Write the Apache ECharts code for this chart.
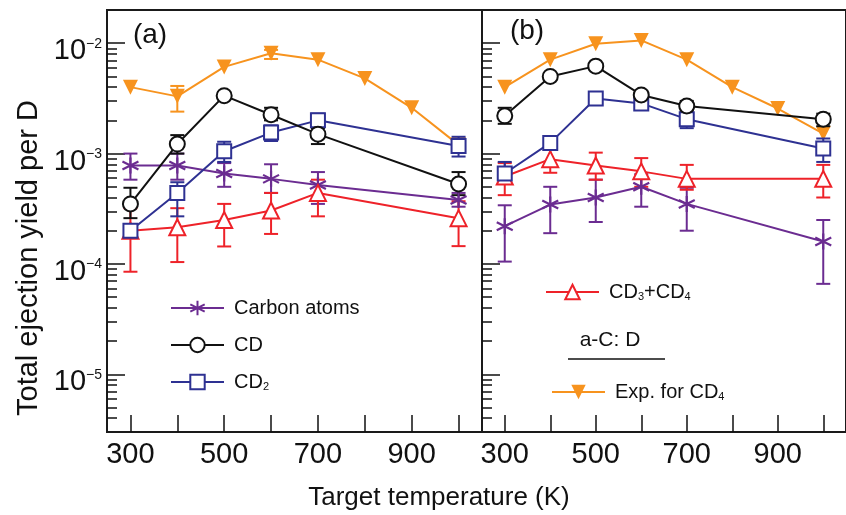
<!DOCTYPE html>
<html>
<head>
<meta charset="utf-8">
<script src="https://cdn.jsdelivr.net/npm/echarts@6/dist/echarts.min.js"></script>
<style>
  html, body { margin: 0; padding: 0; background: #fff; }
  #chart { width: 846px; height: 515px; }
</style>
</head>
<body>
<div id="chart"></div>
<script>
const FONT = '"Liberation Sans", Arial, sans-serif';

// ---- temperatures (K) ----
const simTemps = [300, 400, 500, 600, 700, 1000];
const expTemps = [300, 400, 500, 600, 700, 800, 900, 1000];

// ---- axis ticks ----
const xTickValues = [300, 400, 500, 600, 700, 800, 900, 1000];
const xLabelValues = [300, 500, 700, 900];
const yMajorTicks = [1e-5, 1e-4, 1e-3, 1e-2];
const yMinorFactors = [2, 3, 4, 5, 6, 7, 8, 9];
const yMinorDecades = [1e-6, 1e-5, 1e-4, 1e-3];

// ---- panel (a) ----
const carbonA    = [7.8e-4, 7.8e-4, 6.6e-4, 5.9e-4, 5.2e-4, 3.8e-4];
const carbonA_lo = [5.8e-4, 5.8e-4, 5.0e-4, 4.4e-4, 3.5e-4, 3.3e-4];
const carbonA_hi = [1.0e-3, 1.0e-3, 8.2e-4, 8.0e-4, 6.8e-4, 4.4e-4];

const cdA    = [3.5e-4, 1.22e-3, 3.35e-3, 2.25e-3, 1.5e-3, 5.3e-4];
const cdA_lo = [2.6e-4, 1.0e-3, 3.1e-3, 2.0e-3, 1.22e-3, 4.2e-4];
const cdA_hi = [4.9e-4, 1.47e-3, 3.6e-3, 2.6e-3, 1.7e-3, 6.8e-4];

const cd2A    = [2.0e-4, 4.4e-4, 1.05e-3, 1.55e-3, 2.0e-3, 1.17e-3];
const cd2A_lo = [1.8e-4, 2.7e-4, 8.4e-4, 1.3e-3, 1.75e-3, 9.4e-4];
const cd2A_hi = [2.3e-4, 5.5e-4, 1.28e-3, 1.8e-3, 2.3e-3, 1.42e-3];

const cd34A    = [2.0e-4, 2.15e-4, 2.5e-4, 3.05e-4, 4.4e-4, 2.6e-4];
const cd34A_lo = [8.5e-5, 1.04e-4, 1.44e-4, 1.87e-4, 2.7e-4, 1.45e-4];
const cd34A_hi = [3.2e-4, 3.2e-4, 3.5e-4, 4.4e-4, 5.8e-4, 3.7e-4];

const expA    = [4.0e-3, 3.3e-3, 6.1e-3, 8.1e-3, 7.1e-3, 4.8e-3, 2.6e-3, 1.2e-3];
const expA_lo = [null, 2.4e-3, null, 7.2e-3, null, null, null, null];
const expA_hi = [null, 4.1e-3, null, 8.7e-3, null, null, null, null];

// ---- panel (b) ----
const carbonB    = [2.2e-4, 3.45e-4, 4.0e-4, 5.0e-4, 3.5e-4, 1.6e-4];
const carbonB_lo = [1.05e-4, 1.9e-4, 2.4e-4, 3.3e-4, 2.0e-4, 6.6e-5];
const carbonB_hi = [3.4e-4, 5.0e-4, 5.8e-4, 6.5e-4, 4.9e-4, 2.5e-4];

const cdB    = [2.2e-3, 5.0e-3, 6.2e-3, 3.4e-3, 2.7e-3, 2.05e-3];
const cdB_lo = [1.86e-3, null, null, 3.1e-3, 2.45e-3, 1.77e-3];
const cdB_hi = [2.6e-3, null, null, 3.7e-3, 3.0e-3, 2.3e-3];

const cd2B    = [6.6e-4, 1.25e-3, 3.15e-3, 2.85e-3, 2.05e-3, 1.11e-3];
const cd2B_lo = [5.4e-4, 1.1e-3, null, 2.6e-3, 1.7e-3, 8.4e-4];
const cd2B_hi = [8.4e-4, 1.4e-3, null, 3.2e-3, 2.3e-3, 1.37e-3];

const cd34B    = [6.2e-4, 8.9e-4, 7.8e-4, 6.9e-4, 5.9e-4, 5.9e-4];
const cd34B_lo = [4.2e-4, 6.7e-4, 5.8e-4, 5.0e-4, 4.7e-4, 4.0e-4];
const cd34B_hi = [8.2e-4, 1.16e-3, 1.02e-3, 9.1e-4, 7.9e-4, 7.9e-4];

const expB = [4.0e-3, 7.1e-3, 9.9e-3, 1.06e-2, 7.1e-3, 4.0e-3, 2.56e-3, 1.52e-3];

// ---- series names and colours ----
const NAME_C = 'Carbon atoms', NAME_CD = 'CD', NAME_CD2 = 'CD2', NAME_CD34 = 'CD3+CD4', NAME_EXP = 'Exp. for CD4';
const C_PURPLE = '#6B2C91', C_BLACK = '#111111', C_BLUE = '#2E3192', C_RED = '#EE2229', C_ORANGE = '#F7931E';

const yMinorTicks = [];
yMinorDecades.forEach(d => yMinorFactors.forEach(f => {
  const v = +(f * d).toPrecision(3);
  if (v > 3.05e-6 && v < 1.95e-2) yMinorTicks.push(v);
}));

// six-armed asterisk marker
const STAR = 'path://M0,-1L0,1M-0.866,-0.5L0.866,0.5M-0.866,0.5L0.866,-0.5';

const markers = {
  [NAME_C]:    { symbol: STAR, symbolSize: 16, itemStyle: { color: C_PURPLE, borderColor: C_PURPLE, borderWidth: 2.2 }, color: C_PURPLE },
  [NAME_CD]:   { symbol: 'circle', symbolSize: 15, itemStyle: { color: '#fff', borderColor: C_BLACK, borderWidth: 2 }, color: C_BLACK },
  [NAME_CD2]:  { symbol: 'rect', symbolSize: 14, itemStyle: { color: '#fff', borderColor: C_BLUE, borderWidth: 2 }, color: C_BLUE },
  [NAME_CD34]: { symbol: 'triangle', symbolSize: 16, itemStyle: { color: '#fff', borderColor: C_RED, borderWidth: 2 }, color: C_RED },
  [NAME_EXP]:  { symbol: 'triangle', symbolSize: 15, symbolRotate: 180, itemStyle: { color: C_ORANGE, borderColor: C_ORANGE, borderWidth: 0 }, color: C_ORANGE }
};

function lineSeries(name, panel, temps, vals, z) {
  const m = markers[name];
  return {
    type: 'line', name: name,
    xAxisIndex: panel, yAxisIndex: panel * 2,
    data: temps.map((t, i) => [t, vals[i]]),
    symbol: m.symbol, symbolSize: m.symbolSize, symbolRotate: m.symbolRotate || 0,
    showSymbol: true,
    itemStyle: m.itemStyle,
    lineStyle: { color: m.color, width: 2 },
    z: z
  };
}

function errorSeries(panel, temps, lo, hi, color, z) {
  const data = [];
  temps.forEach((t, i) => { if (lo[i] != null && hi[i] != null) data.push([t, lo[i], hi[i]]); });
  return {
    type: 'custom',
    xAxisIndex: panel, yAxisIndex: panel * 2,
    data: data,
    encode: { x: 0, y: [1, 2] },
    z: z,
    renderItem: function (params, api) {
      const x = api.value(0);
      const pLo = api.coord([x, api.value(1)]);
      const pHi = api.coord([x, api.value(2)]);
      const half = 7;
      const style = { stroke: color, lineWidth: 2, fill: null };
      return {
        type: 'group',
        children: [
          { type: 'line', shape: { x1: pLo[0], y1: pLo[1], x2: pHi[0], y2: pHi[1] }, style: style },
          { type: 'line', shape: { x1: pLo[0] - half, y1: pLo[1], x2: pLo[0] + half, y2: pLo[1] }, style: style },
          { type: 'line', shape: { x1: pHi[0] - half, y1: pHi[1], x2: pHi[0] + half, y2: pHi[1] }, style: style }
        ]
      };
    }
  };
}

function xAxisFor(panel) {
  return {
    type: 'value', gridIndex: panel, min: 250, max: 1050,
    axisLine: { show: false },
    splitLine: { show: false },
    axisTick: { show: true, inside: true, length: 17, customValues: xTickValues, lineStyle: { color: '#111', width: 1.5 } },
    axisLabel: {
      show: true, customValues: xLabelValues, margin: 8,
      fontFamily: FONT, fontSize: 29, color: '#111'
    }
  };
}

function yAxisFor(panel, major) {
  const ax = {
    type: 'log', logBase: 10, gridIndex: panel, min: 3e-6, max: 2e-2,
    position: 'left', offset: 0,
    axisLine: { show: false },
    splitLine: { show: false },
    minorTick: { show: false },
    axisTick: {
      show: true, inside: true,
      length: major ? 18 : 10,
      customValues: major ? yMajorTicks : yMinorTicks,
      lineStyle: { color: '#111', width: 1.5 }
    },
    axisLabel: { show: false }
  };
  if (major && panel === 0) {
    ax.axisLabel = {
      show: true, customValues: yMajorTicks, margin: 5,
      padding: [16, 0, 0, 0],
      formatter: function (v) {
        const e = Math.round(Math.log10(v));
        return '{b|10}{s|\u2212' + Math.abs(e) + '}';
      },
      rich: {
        b: { fontFamily: FONT, fontSize: 29, color: '#111' },
        s: { fontFamily: FONT, fontSize: 14, color: '#111', verticalAlign: 'top' }
      }
    };
  }
  return ax;
}

const subRich = {
  s: { fontFamily: FONT, fontSize: 11, color: '#111', verticalAlign: 'bottom', padding: [3, 0, 0, 0] }
};
function legendLabel(name) {
  if (name === NAME_CD2) return 'CD{s|2}';
  if (name === NAME_CD34) return 'CD{s|3}+CD{s|4}';
  if (name === NAME_EXP) return 'Exp. for CD{s|4}';
  return name;
}
function legendFor(names, left, top) {
  return {
    data: names, orient: 'vertical', left: left, top: top,
    padding: 0, itemGap: 17, itemWidth: 53, itemHeight: 18,
    selectedMode: false,
    formatter: legendLabel,
    textStyle: { fontFamily: FONT, fontSize: 20, color: '#111', padding: [0, 0, 0, 5], rich: subRich }
  };
}

const option = {
  animation: false,
  backgroundColor: '#fff',
  grid: [
    { left: 107, top: 10, width: 375, height: 422, show: true, borderColor: '#1a1a1a', borderWidth: 2, backgroundColor: 'transparent' },
    { left: 482, top: 10, width: 375, height: 422, show: true, borderColor: '#1a1a1a', borderWidth: 2, backgroundColor: 'transparent' }
  ],
  xAxis: [xAxisFor(0), xAxisFor(1)],
  yAxis: [yAxisFor(0, true), yAxisFor(0, false), yAxisFor(1, true), yAxisFor(1, false)],
  legend: [
    legendFor([NAME_C, NAME_CD, NAME_CD2], 170, 298),
    legendFor([NAME_CD34], 545, 282),
    legendFor([NAME_EXP], 551, 382)
  ],
  graphic: [
    { type: 'text', x: 150, y: 35, style: { text: '(a)', fontFamily: FONT, fontSize: 28, fill: '#111', align: 'center', verticalAlign: 'middle' } },
    { type: 'text', x: 527, y: 31, style: { text: '(b)', fontFamily: FONT, fontSize: 28, fill: '#111', align: 'center', verticalAlign: 'middle' } },
    { type: 'text', x: 610, y: 340, style: { text: 'a-C: D', fontFamily: FONT, fontSize: 21, fill: '#111', align: 'center', verticalAlign: 'middle' } },
    { type: 'line', shape: { x1: 568, y1: 359, x2: 665, y2: 359 }, style: { stroke: '#111', lineWidth: 1.5 } },
    { type: 'text', x: 439, y: 498, style: { text: 'Target temperature (K)', fontFamily: FONT, fontSize: 26, fill: '#111', align: 'center', verticalAlign: 'middle' } },
    { type: 'text', x: 29, y: 258, rotation: Math.PI / 2, style: { text: 'Total ejection yield per D', fontFamily: FONT, fontSize: 29, fill: '#111', align: 'center', verticalAlign: 'middle' } }
  ],
  series: [
    // panel (a)
    lineSeries(NAME_EXP, 0, expTemps, expA, 3),
    errorSeries(0, expTemps, expA_lo, expA_hi, C_ORANGE, 2),
    errorSeries(0, simTemps, carbonA_lo, carbonA_hi, C_PURPLE, 4),
    lineSeries(NAME_C, 0, simTemps, carbonA, 5),
    errorSeries(0, simTemps, cd34A_lo, cd34A_hi, C_RED, 4),
    lineSeries(NAME_CD34, 0, simTemps, cd34A, 5),
    errorSeries(0, simTemps, cd2A_lo, cd2A_hi, C_BLUE, 4),
    lineSeries(NAME_CD2, 0, simTemps, cd2A, 5),
    errorSeries(0, simTemps, cdA_lo, cdA_hi, C_BLACK, 4),
    lineSeries(NAME_CD, 0, simTemps, cdA, 5),
    // panel (b)
    lineSeries(NAME_EXP, 1, expTemps, expB, 3),
    errorSeries(1, simTemps, carbonB_lo, carbonB_hi, C_PURPLE, 4),
    lineSeries(NAME_C, 1, simTemps, carbonB, 5),
    errorSeries(1, simTemps, cd34B_lo, cd34B_hi, C_RED, 4),
    lineSeries(NAME_CD34, 1, simTemps, cd34B, 5),
    errorSeries(1, simTemps, cd2B_lo, cd2B_hi, C_BLUE, 4),
    lineSeries(NAME_CD2, 1, simTemps, cd2B, 5),
    errorSeries(1, simTemps, cdB_lo, cdB_hi, C_BLACK, 4),
    lineSeries(NAME_CD, 1, simTemps, cdB, 5)
  ]
};

const chart = echarts.init(document.getElementById('chart'), null, { renderer: 'canvas' });
chart.setOption(option);
</script>
</body>
</html>
